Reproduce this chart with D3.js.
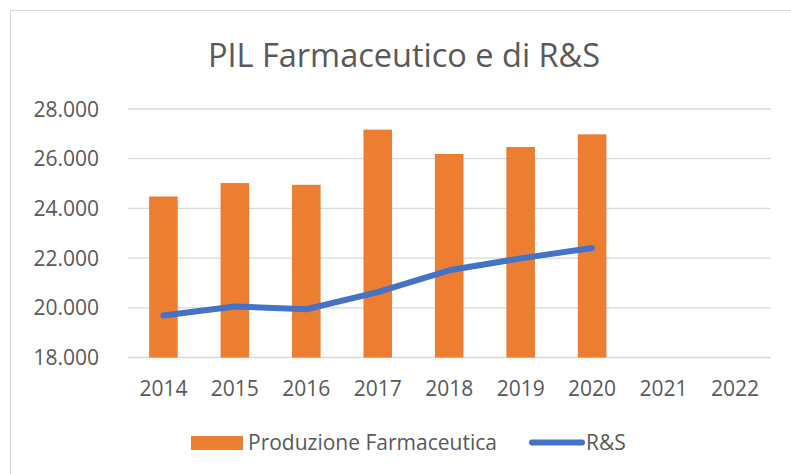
<!DOCTYPE html>
<html>
<head>
<meta charset="utf-8">
<script src="https://cdn.jsdelivr.net/npm/d3@7"></script>
<style>
  body { margin: 0; background: #fff; }
  text { font-family: 'Open Sans', sans-serif; fill: #595959; }
</style>
</head>
<body>
<div id="chart"></div>
<script>
// data
const years = ['2014', '2015', '2016', '2017', '2018', '2019', '2020', '2021', '2022'];
const produzione = [24480, 25020, 24950, 27170, 26190, 26470, 26980, null, null];
const ricerca = [19690, 20050, 19940, 20630, 21510, 21990, 22410, null, null];
const yTicks = [18000, 20000, 22000, 24000, 26000, 28000];

const W = 791, H = 474;
const plot = { left: 127.7, right: 770.7, top: 109, bottom: 357.5 };

const svg = d3.select('#chart').append('svg')
  .attr('width', W).attr('height', H);

// outer chart frame
svg.append('rect')
  .attr('x', 10.5).attr('y', 10.5)
  .attr('width', 800).attr('height', 500)
  .attr('fill', 'none').attr('stroke', '#d9d9d9');

svg.append('text')
  .attr('x', 404).attr('y', 67)
  .attr('text-anchor', 'middle')
  .style('font-size', '32.5px')
  .text('PIL Farmaceutico e di R&S');

const x = d3.scaleBand()
  .domain(years)
  .range([plot.left, plot.right])
  .paddingInner(0.6)
  .paddingOuter(0.3);

const y = d3.scaleLinear()
  .domain([18000, 28000])
  .range([plot.bottom, plot.top]);

const fmt = (v) => d3.format(',')(v).replace(',', '.');

// gridlines
svg.append('g')
  .selectAll('line')
  .data(yTicks)
  .enter()
  .append('line')
  .attr('x1', plot.left).attr('x2', plot.right)
  .attr('y1', (d) => y(d)).attr('y2', (d) => y(d))
  .attr('stroke', '#d9d9d9').attr('stroke-width', 1.3);

// y labels
svg.append('g')
  .selectAll('text')
  .data(yTicks)
  .enter()
  .append('text')
  .attr('x', 99)
  .attr('y', (d) => y(d) + 7.5)
  .attr('text-anchor', 'end')
  .style('font-size', '21px')
  .text(fmt);

// x labels
svg.append('g')
  .selectAll('text')
  .data(years)
  .enter()
  .append('text')
  .attr('x', (d) => x(d) + x.bandwidth() / 2)
  .attr('y', 396)
  .attr('text-anchor', 'middle')
  .style('font-size', '21px')
  .text((d) => d);

// bars
const barData = years.map((yr, i) => ({ yr: yr, v: produzione[i] })).filter((d) => d.v != null);
svg.append('g')
  .selectAll('rect')
  .data(barData)
  .enter()
  .append('rect')
  .attr('x', (d) => x(d.yr))
  .attr('y', (d) => y(d.v))
  .attr('width', x.bandwidth())
  .attr('height', (d) => y(18000) - y(d.v))
  .attr('fill', '#ed7d31');

// R&S line
const lineData = years.map((yr, i) => ({ yr: yr, v: ricerca[i] })).filter((d) => d.v != null);
const line = d3.line()
  .x((d) => x(d.yr) + x.bandwidth() / 2)
  .y((d) => y(d.v));

svg.append('path')
  .datum(lineData)
  .attr('d', line)
  .attr('fill', 'none')
  .attr('stroke', '#4472c4')
  .attr('stroke-width', 6)
  .attr('stroke-linecap', 'round')
  .attr('stroke-linejoin', 'round');

// legend
const legend = svg.append('g');
legend.append('rect')
  .attr('x', 191).attr('y', 436)
  .attr('width', 52).attr('height', 14)
  .attr('fill', '#ed7d31');
legend.append('text')
  .attr('x', 248).attr('y', 450)
  .style('font-size', '21px')
  .text('Produzione Farmaceutica');
legend.append('line')
  .attr('x1', 532).attr('x2', 582)
  .attr('y1', 442.5).attr('y2', 442.5)
  .attr('stroke', '#4472c4')
  .attr('stroke-width', 6)
  .attr('stroke-linecap', 'round');
legend.append('text')
  .attr('x', 586).attr('y', 450)
  .style('font-size', '21px')
  .text('R&S');
</script>
</body>
</html>
